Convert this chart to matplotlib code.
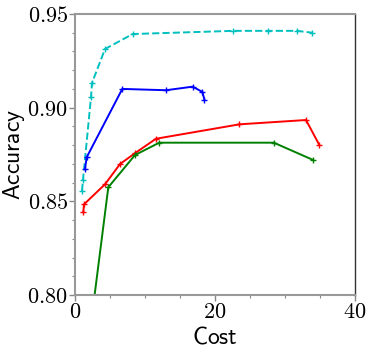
import matplotlib
matplotlib.use("Agg")
import matplotlib.pyplot as plt
from matplotlib.ticker import MultipleLocator, FuncFormatter

plt.rcParams['mathtext.fontset'] = 'cm'
plt.rcParams['font.family'] = ['DejaVu Sans']

# cyan dashed
cost_c = [1.0, 1.14, 2.29, 2.43, 4.29, 8.24, 22.6, 27.6, 31.7, 33.9]
acc_c = [0.8555, 0.8614, 0.9057, 0.9132, 0.9313, 0.9393, 0.9410, 0.9410, 0.9410, 0.9400]

# blue
cost_b = [1.43, 1.67, 6.76, 13.0, 16.8, 18.2, 18.5]
acc_b = [0.8673, 0.8735, 0.9100, 0.9093, 0.9112, 0.9084, 0.9041]

# red
cost_r = [1.19, 1.29, 4.29, 6.43, 8.57, 11.57, 23.5, 33.0, 34.9]
acc_r = [0.8445, 0.8484, 0.8591, 0.8699, 0.8757, 0.8834, 0.8911, 0.8934, 0.8801]

# green (first point sits below the axis, clipped)
cost_g = [1.1, 4.76, 8.57, 12.04, 28.4, 34.0]
acc_g = [0.75, 0.8575, 0.8747, 0.8813, 0.8813, 0.8721]

fig = plt.figure(figsize=(3.74, 3.47), dpi=100)
ax = fig.add_axes([0.2005, 0.1499, 0.7487, 0.8098])

ax.plot(cost_c, acc_c, 'c--', marker='+', ms=4, lw=1.4)
ax.plot(cost_b, acc_b, 'b-', marker='+', ms=4, lw=1.4)
ax.plot(cost_r, acc_r, 'r-', marker='+', ms=4, lw=1.4)
ax.plot(cost_g, acc_g, 'g-', marker='+', ms=4, lw=1.4)

ax.set_xlim(0, 40)
ax.set_ylim(0.80, 0.95)
ax.xaxis.set_major_locator(MultipleLocator(20))
ax.xaxis.set_minor_locator(MultipleLocator(5))
ax.yaxis.set_major_locator(MultipleLocator(0.05))
ax.yaxis.set_minor_locator(MultipleLocator(0.01))
ax.xaxis.set_major_formatter(FuncFormatter(lambda v, p: r'$%d$' % round(v)))
ax.yaxis.set_major_formatter(FuncFormatter(lambda v, p: r'$%.2f$' % v))

for s in ['left', 'top', 'bottom']:
    ax.spines[s].set_color('#999999')
    ax.spines[s].set_linewidth(1.5)
ax.spines['right'].set_color('#333333')
ax.spines['right'].set_linewidth(1.0)

ax.tick_params(which='major', direction='out', length=4, width=1, color='#888888', labelsize=16, pad=1)
ax.tick_params(which='minor', direction='out', length=2, width=0.8, color='#888888')

ax.set_xlabel(r'$\mathsf{Cost}$', fontsize=17)
ax.set_ylabel(r'$\mathsf{Accuracy}$', fontsize=17)
ax.xaxis.set_label_coords(0.5, -0.105)
ax.yaxis.set_label_coords(-0.172, 0.5)

fig.savefig('out.png', dpi=100)
